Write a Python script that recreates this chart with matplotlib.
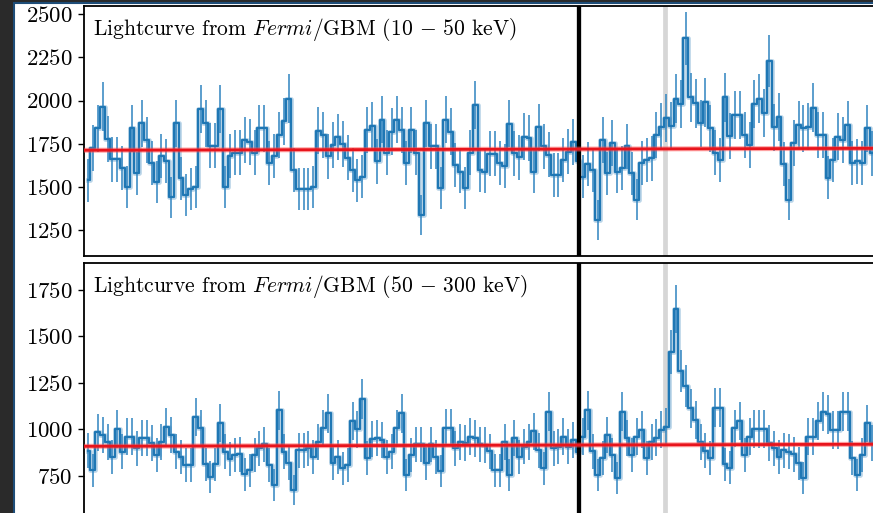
import numpy as np
from matplotlib import pyplot as plt
from matplotlib.patches import Rectangle

# count rates per time bin
rate_lo = [1540, 1725, 1840, 1966, 1780, 1660, 1660, 1610, 1500, 1840,
           1580, 1870, 1770, 1640, 1530, 1680, 1650, 1440, 1870, 1550,
           1455, 1490, 1500, 1950, 1870, 1740, 1740, 1950, 1500, 1680,
           1700, 1700, 1770, 1760, 1700, 1840, 1840, 1640, 1680, 1800,
           1880, 2010, 1600, 1490, 1490, 1490, 1500, 1827, 1802, 1677,
           1745, 1790, 1748, 1670, 1600, 1540, 1560, 1830, 1854, 1648,
           1890, 1700, 1820, 1890, 1830, 1640, 1830, 1700, 1340, 1870,
           1735, 1735, 1493, 1890, 1820, 1630, 1590, 1493, 1700, 1975,
           1600, 1590, 1692, 1692, 1640, 1620, 1866, 1696, 1673, 1792,
           1783, 1590, 1846, 1735, 1686, 1570, 1570, 1657, 1705, 1763,
           1648, 1560, 1634, 1600, 1310, 1770, 1580, 1757, 1590, 1610,
           1735, 1580, 1426, 1640, 1657, 1667, 1802, 1850, 1900, 1854,
           2010, 1980, 2361, 2020, 1985, 1870, 1990, 1840, 1700, 1657,
           2020, 1796, 1918, 1918, 1802, 1745, 1980, 2010, 1927, 2230,
           1846, 1904, 1632, 1426, 1754, 1860, 1840, 1850, 1960, 1802,
           1802, 1555, 1657, 1792, 1773, 1860, 1640, 1648, 1640, 1840,
           1696]

rate_hi = [883, 780, 983, 969, 929, 852, 1001, 879, 960, 960,
           897, 951, 951, 924, 861, 933, 1013, 969, 879, 852,
           807, 807, 1064, 1004, 811, 744, 811, 1033, 879, 840,
           861, 865, 757, 780, 861, 897, 918, 807, 700, 1103,
           879, 816, 673, 888, 888, 897, 852, 933, 1004, 1086,
           816, 852, 789, 807, 1044, 1000, 1162, 845, 948, 954,
           942, 852, 879, 1004, 1086, 753, 861, 918, 918, 816,
           918, 852, 775, 1008, 1008, 897, 929, 924, 960, 950,
           918, 915, 882, 780, 780, 933, 753, 951, 852, 906,
           933, 990, 888, 789, 1094, 897, 906, 960, 906, 942,
           879, 960, 1103, 882, 753, 846, 969, 861, 739, 1094,
           951, 861, 960, 998, 846, 933, 955, 998, 1013, 1413,
           1646, 1313, 1232, 1112, 1049, 930, 883, 846, 1116, 1116,
           811, 793, 1004, 1044, 861, 960, 1001, 1001, 1001, 924,
           897, 852, 888, 879, 865, 816, 739, 960, 960, 1044,
           1094, 1080, 996, 996, 1094, 1094, 847, 753, 861, 1031,
           924]

bin_dt = 0.1          # s, used for the Poisson error on each rate
bkg_x = [-0.8, 160.5]  # background fit drawn over the window
bkg_lo = [1713, 1724]
bkg_hi = [908, 919]
t_trigger = 100.1     # black line
t_onset = 117.8       # grey line

titles = [r"Lightcurve from $\it{Fermi}$/GBM (10 $-$ 50 keV)",
          r"Lightcurve from $\it{Fermi}$/GBM (50 $-$ 300 keV)"]
yticks_lo = [1250, 1500, 1750, 2000, 2250, 2500]
yticks_hi = [750, 1000, 1250, 1500, 1750]

plt.rcParams['font.family'] = 'serif'
plt.rcParams['font.serif'] = ['cmr10', 'DejaVu Serif']
plt.rcParams['mathtext.fontset'] = 'cm'
plt.rcParams['axes.formatter.use_mathtext'] = True

W, H = 873, 513
fig = plt.figure(figsize=(W / 100, H / 100), dpi=100)
fig.patch.set_facecolor('#2a2a2a')
fig.add_artist(Rectangle((13.5 / W, -0.01), 1, (H - 2.5) / H + 0.01, transform=fig.transFigure,
                         facecolor='white', edgecolor='#1e4d78', lw=1.5, zorder=-1))

ax1 = fig.add_axes([84 / W, 1 - 256 / H, 866 / W, 250 / H])
ax2 = fig.add_axes([84 / W, 1 - 522.2 / H, 866 / W, 259.2 / H])

x = np.arange(len(rate_lo))
panels = [(ax1, rate_lo, bkg_lo, (1101, 2548), yticks_lo),
          (ax2, rate_hi, bkg_hi, (500, 1893.5), yticks_hi)]

for i, (ax, rate, bkg, ylim, yt) in enumerate(panels):
    rate = np.array(rate, dtype=float)
    err = np.sqrt(rate / bin_dt)
    ax.axvline(t_onset, color='#d6d6d6', lw=3.4, zorder=1)
    # soft halo under the step line, like the blurred original
    ax.step(x, rate, where='mid', color='#1f77b4', lw=3.4, alpha=0.3, zorder=2)
    ax.errorbar(x, rate, yerr=err, drawstyle='steps-mid', color='#1f77b4',
                lw=1.6, elinewidth=1.1, ecolor='#2f84c0', capsize=0, zorder=2)
    ax.axvline(t_trigger, color='black', lw=3.1, zorder=3)
    ax.plot(bkg_x, bkg, color='#ff4d4d', lw=3.6, alpha=0.5, zorder=4)
    ax.plot(bkg_x, bkg, color='#e8141c', lw=2.0, zorder=4)
    ax.set_xlim(-0.8, 175.9)
    ax.set_ylim(*ylim)
    ax.set_yticks(yt)
    ax.tick_params(axis='y', labelsize=16.5, length=4.5, width=1, pad=3.5)
    ax.tick_params(axis='x', bottom=False, labelbottom=False)
    for s in ax.spines.values():
        s.set_linewidth(1.3)
    ax.annotate(titles[i], xy=(0, 1), xycoords='axes fraction', xytext=(6.5, -21),
                textcoords='offset points', va='baseline', ha='left', fontsize=15.5)

fig.savefig('out.png', dpi=100, facecolor=fig.get_facecolor())
